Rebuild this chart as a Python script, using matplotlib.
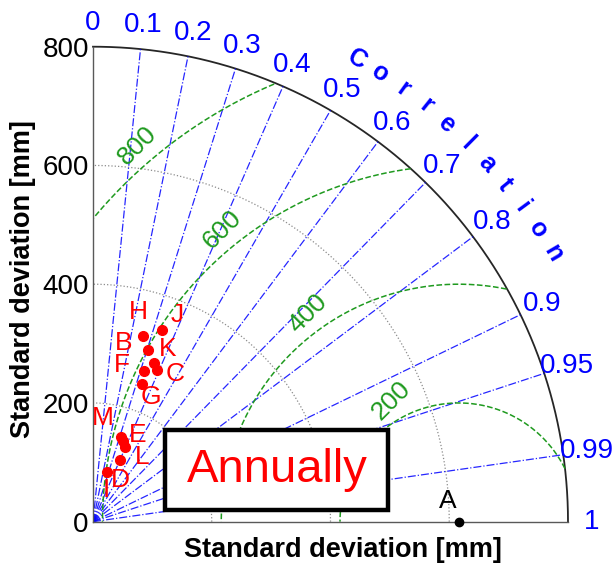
import numpy as np
import matplotlib
matplotlib.use('Agg')
import matplotlib.pyplot as plt
from matplotlib.patches import Rectangle

plt.rcParams['font.family'] = ['Liberation Sans', 'DejaVu Sans']

# DATA
ref_std = 616
models = ['B', 'C', 'D', 'E', 'F', 'G', 'H', 'I', 'J', 'K', 'L', 'M']
model_std = [304, 277, 113, 145, 268, 246, 324, 87, 343, 286, 137, 150]
model_corr = [0.306, 0.387, 0.401, 0.343, 0.320, 0.338, 0.259, 0.266, 0.340, 0.359, 0.394, 0.314]
corr_ticks = [0, 0.1, 0.2, 0.3, 0.4, 0.5, 0.6, 0.7, 0.8, 0.9, 0.95, 0.99, 1]
std_ticks = [0, 200, 400, 600, 800]
rms_levels = [200, 400, 600, 800]
max_std = 800

# label placement (layout only)
label_off = {'B': (-18, 5), 'C': (13, -3), 'D': (0, -14), 'E': (11, 4), 'F': (-16, 4),
             'G': (6, -9), 'H': (-3, 17), 'I': (0, -13), 'J': (11, 11), 'K': (10, 10),
             'L': (12, -7), 'M': (-13, 14)}
rms_lab_ang = {200: 119, 400: 126, 600: 129, 800: 130.5}

blue = '#0000ff'
green = '#1f9a1f'
red = '#ff0000'

fig = plt.figure(figsize=(6.13, 5.71), dpi=100)
ax = fig.add_axes([93 / 613, 49.3 / 571, 475 / 613, 475 / 571])
ax.set_xlim(0, max_std)
ax.set_ylim(0, max_std)

ax.spines['top'].set_visible(False)
ax.spines['right'].set_visible(False)
for s in ['left', 'bottom']:
    ax.spines[s].set_color('0.35')
    ax.spines[s].set_linewidth(1.0)

ax.set_xticks([])
ax.set_yticks(std_ticks)
ax.set_yticklabels([str(v) for v in std_ticks], fontsize=20)
ax.tick_params(axis='y', length=0, pad=3)

# std arcs
t = np.linspace(0, np.pi / 2, 300)
for r in std_ticks[1:-1]:
    ax.plot(r * np.cos(t), r * np.sin(t), ':', color='0.55', lw=0.9)
ax.plot(max_std * np.cos(t), max_std * np.sin(t), '-', color='0.15', lw=1.3, clip_on=False)

# correlation lines
for c in corr_ticks[1:-1]:
    a = np.arccos(c)
    ax.plot([0, max_std * np.cos(a)], [0, max_std * np.sin(a)], '-.', color=blue, lw=0.9, alpha=0.85)

for c in corr_ticks:
    a = np.arccos(c)
    ax.text(840 * np.cos(a), 840 * np.sin(a), f'{c:g}', color=blue, fontsize=20,
            ha='center', va='center', clip_on=False)

# "Correlation" along arc
word = 'Correlation'
angs = np.linspace(60.3, 30.3, len(word))
for ch, ang in zip(word, angs):
    ar = np.deg2rad(ang)
    ax.text(897 * np.cos(ar), 897 * np.sin(ar), ch, color=blue, fontsize=18, fontweight='bold',
            rotation=ang - 90, ha='center', va='center', rotation_mode='anchor', clip_on=False)

# RMS contours
ph = np.linspace(0, np.pi, 800)
for lev in rms_levels:
    x = ref_std + lev * np.cos(ph)
    y = lev * np.sin(ph)
    m = (np.hypot(x, y) <= max_std) & (x >= 0)
    ax.plot(np.where(m, x, np.nan), np.where(m, y, np.nan), '--', color=green, lw=1.1)
    la = np.deg2rad(rms_lab_ang[lev])
    ax.text(ref_std + (lev + 33) * np.cos(la), (lev + 33) * np.sin(la), str(lev), color=green,
            fontsize=19, rotation=45, ha='center', va='center')

# points
xs = np.array(model_std) * np.array(model_corr)
ys = np.array(model_std) * np.sin(np.arccos(model_corr))
ax.plot(xs, ys, 'o', color=red, ms=7, clip_on=False, zorder=5)
for name, x, y in zip(models, xs, ys):
    ax.annotate(name, (x, y), xytext=label_off[name], textcoords='offset points',
                color=red, fontsize=19, ha='center', va='center')

ax.plot([ref_std], [0], 'o', color='black', ms=6, clip_on=False, zorder=6)
ax.annotate('A', (ref_std, 0), xytext=(-8, 15), textcoords='offset points',
            color='black', fontsize=19, ha='center', va='center')

# axis labels
fig.text(343 / 613, 1 - 550 / 571, 'Standard deviation [mm]', fontsize=19.5, fontweight='bold',
         ha='center', va='center')
fig.text(23 / 613, 1 - 279 / 571, 'Standard deviation [mm]', fontsize=19.5, fontweight='bold',
         ha='center', va='center', rotation=90)

# Annually box
fig.patches.append(Rectangle((165 / 613, 1 - 510 / 571), 223 / 613, 80 / 571, transform=fig.transFigure,
                             facecolor='white', edgecolor='black', lw=3.2, zorder=10))
fig.text(277 / 613, 1 - 470 / 571, 'Annually', color=red, fontsize=34, ha='center', va='center', zorder=11)

fig.savefig('out.png', dpi=100)
